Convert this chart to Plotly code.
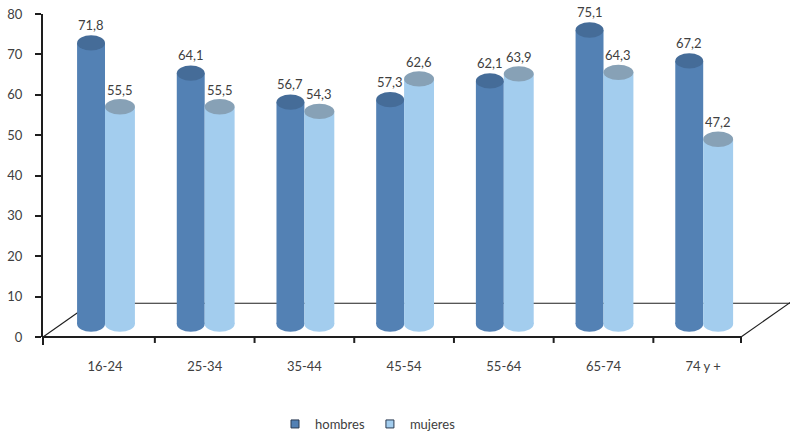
import plotly.graph_objects as go

# Data
categories = ["16-24", "25-34", "35-44", "45-54", "55-64", "65-74", "74 y +"]
hombres = [71.8, 64.1, 56.7, 57.3, 62.1, 75.1, 67.2]
mujeres = [55.5, 55.5, 54.3, 62.6, 63.9, 64.3, 47.2]
y_ticks = [0, 10, 20, 30, 40, 50, 60, 70, 80]

# Plot area in pixels
W_FIG, H_FIG = 790, 439
L, T, B = 43, 14, 339
R = W_FIG
PW, PH = R - L, B - T


def px_x(p):
    return (p - L) / PW


def px_y(p):
    return (B - p) / PH


# Styling
C_H_BODY, C_H_TOP = "#5381b4", "#456c98"
C_M_BODY, C_M_TOP = "#a3cdee", "#87a1b6"
TXT = "#404040"
FONT = "Lato"
LINE = "#1e1e1e"

W_H, W_M = 0.28, 0.30      # cylinder widths (category units)
CAP = 1.95                 # half-height of the elliptical caps (value units)

idx = list(range(len(categories)))

fig = go.Figure()

fig.add_trace(go.Bar(
    x=idx, y=hombres, base=0, offset=-W_H, width=W_H,
    marker=dict(color=C_H_BODY, line=dict(width=0)),
    xaxis="x", yaxis="y2", showlegend=False, hoverinfo="skip",
))
fig.add_trace(go.Bar(
    x=idx, y=mujeres, base=0, offset=0, width=W_M,
    marker=dict(color=C_M_BODY, line=dict(width=0)),
    xaxis="x", yaxis="y2", showlegend=False, hoverinfo="skip",
))

# Legend entries
for name, col in [("hombres", C_H_BODY), ("mujeres", C_M_BODY)]:
    fig.add_trace(go.Scatter(
        x=[None], y=[None], mode="markers", name=name,
        marker=dict(symbol="square", size=8, color=col,
                    line=dict(color="#2a3a50", width=1)),
        xaxis="x", yaxis="y",
    ))

shapes = []
# Floor of the 3D box
floor = [((43, 339), (91, 305), 1.1), ((91, 305), (792, 305), 1.1),
         ((741, 339), (792, 303), 1.1), ((43, 339), (741, 339), 1.8),
         ((43, 339), (43, 347), 2)]
for (x0, y0), (x1, y1), w in floor:
    shapes.append(dict(type="line", xref="paper", yref="paper",
                       x0=px_x(x0), y0=px_y(y0), x1=px_x(x1), y1=px_y(y1),
                       line=dict(color=LINE, width=w), layer="below"))
# Category separators on the front edge
for i in idx[:-1]:
    shapes.append(dict(type="line", xref="x", yref="paper",
                       x0=i + 0.5, x1=i + 0.5, y0=px_y(339), y1=px_y(345),
                       line=dict(color=LINE, width=2), layer="below"))
shapes.append(dict(type="line", xref="paper", yref="paper",
                   x0=px_x(741), x1=px_x(741), y0=px_y(339), y1=px_y(345),
                   line=dict(color=LINE, width=2), layer="below"))

# Rounded bottoms of the cylinders
for i in idx:
    shapes.append(dict(type="circle", xref="x", yref="y2",
                       x0=i - W_H, x1=i, y0=-CAP, y1=CAP,
                       fillcolor=C_H_BODY, line=dict(width=0), layer="below"))
    shapes.append(dict(type="circle", xref="x", yref="y2",
                       x0=i, x1=i + W_M, y0=-CAP, y1=CAP,
                       fillcolor=C_M_BODY, line=dict(width=0), layer="below"))
# Top caps
for i, v in zip(idx, hombres):
    shapes.append(dict(type="circle", xref="x", yref="y2",
                       x0=i - W_H, x1=i, y0=v - CAP, y1=v + CAP,
                       fillcolor=C_H_TOP, line=dict(width=0), layer="above"))
for i, v in zip(idx, mujeres):
    shapes.append(dict(type="circle", xref="x", yref="y2",
                       x0=i, x1=i + W_M, y0=v - CAP, y1=v + CAP,
                       fillcolor=C_M_TOP, line=dict(width=0), layer="above"))

# Value labels
annotations = []
for i, v in zip(idx, hombres):
    annotations.append(dict(x=i - W_H / 2, y=v, xref="x", yref="y2",
                            text=f"{v:.1f}".replace(".", ","), showarrow=False,
                            yshift=18, font=dict(family=FONT, size=13, color=TXT)))
for i, v in zip(idx, mujeres):
    annotations.append(dict(x=i + W_M / 2, y=v, xref="x", yref="y2",
                            text=f"{v:.1f}".replace(".", ","), showarrow=False,
                            yshift=17, font=dict(family=FONT, size=13, color=TXT)))

# Value axis of the cylinders: zero sits on the mid-depth plane
BAR_PX = 3.94
bar_zero = 326
y2_range = [-(B - bar_zero) / BAR_PX, (bar_zero - T) / BAR_PX]
x_range = [(L - 105) / 99.7, (R - 105) / 99.7]

fig.update_layout(
    width=W_FIG, height=H_FIG,
    margin=dict(l=L, r=W_FIG - R, t=T, b=H_FIG - B, pad=0),
    paper_bgcolor="white", plot_bgcolor="white",
    barmode="overlay",
    font=dict(family=FONT, size=13, color=TXT),
    xaxis=dict(range=x_range, showgrid=False, zeroline=False, showline=False,
               tickmode="array", tickvals=idx, ticktext=categories,
               ticks="", ticklabelstandoff=20,
               tickfont=dict(family=FONT, size=13, color=TXT), fixedrange=True),
    yaxis=dict(range=[0, 80], tickvals=y_ticks, showgrid=False, zeroline=False,
               showline=True, linecolor=LINE, linewidth=2,
               ticks="outside", ticklen=6, tickwidth=2, tickcolor=LINE,
               ticklabelstandoff=10,
               tickfont=dict(family=FONT, size=13, color=TXT), fixedrange=True),
    yaxis2=dict(range=y2_range, overlaying="y", visible=False, fixedrange=True),
    shapes=shapes,
    annotations=annotations,
    legend=dict(orientation="h", x=px_x(368), xanchor="center",
                y=px_y(427), yanchor="middle",
                font=dict(family=FONT, size=13, color=TXT),
                itemwidth=30, tracegroupgap=0),
    showlegend=True,
)

fig.write_html("out.html")
